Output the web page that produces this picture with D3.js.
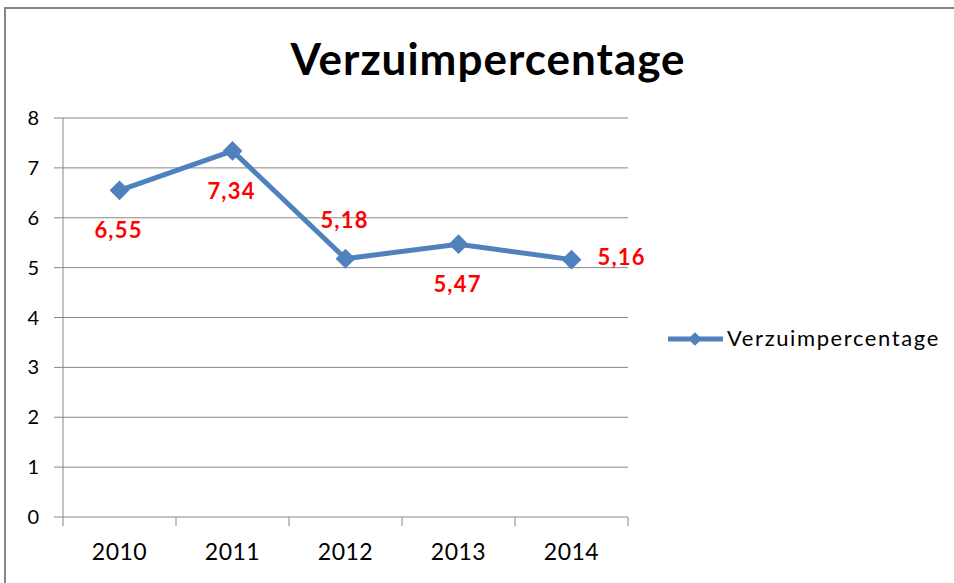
<!DOCTYPE html>
<html>
<head>
<meta charset="utf-8">
<script src="https://cdn.jsdelivr.net/npm/d3@7"></script>
<style>
  body { margin: 0; background: #fff; }
  text { font-family: Lato, "Open Sans", sans-serif; }
</style>
</head>
<body>
<div id="chart"></div>
<script>
// data
const years = ["2010", "2011", "2012", "2013", "2014"];
const verzuim = [6.55, 7.34, 5.18, 5.47, 5.16];
const labelText = ["6,55", "7,34", "5,18", "5,47", "5,16"];
const labelPos = ["below", "below", "above", "below", "right"];
const yTicks = [0, 1, 2, 3, 4, 5, 6, 7, 8];

const W = 954, H = 583;
let margin = {top: 118, left: 63, right: 954 - 628, bottom: 583 - 517};

let svg = d3.select("#chart").append("svg")
  .attr("width", W)
  .attr("height", H);

// chart border (runs off the right and bottom edge)
svg.append("rect")
  .attr("x", 5).attr("y", 8)
  .attr("width", W + 10).attr("height", H + 10)
  .attr("fill", "#fff")
  .attr("stroke", "#868686")
  .attr("stroke-width", 2);

let x = d3.scaleBand().domain(years).range([margin.left, W - margin.right]);
let y = d3.scaleLinear().domain([0, 8]).range([H - margin.bottom, margin.top]);

// gridlines
svg.append("g").selectAll("line")
  .data(yTicks)
  .enter().append("line")
    .attr("x1", margin.left - 9).attr("x2", W - margin.right)
    .attr("y1", d => y(d)).attr("y2", d => y(d))
    .attr("stroke", "#878787").attr("stroke-width", 1);

// y axis line
svg.append("line")
  .attr("x1", margin.left).attr("x2", margin.left)
  .attr("y1", y(8)).attr("y2", y(0))
  .attr("stroke", "#878787");

// y tick labels
svg.append("g").selectAll("text")
  .data(yTicks)
  .enter().append("text")
    .attr("x", 39).attr("y", d => y(d) + 7)
    .attr("text-anchor", "end")
    .attr("font-size", 20)
    .attr("fill", "#000")
    .text(d => d);

// x tick marks
let bounds = years.map(d => x(d)).concat([x(years[years.length - 1]) + x.bandwidth()]);
svg.append("g").selectAll("line")
  .data(bounds)
  .enter().append("line")
    .attr("x1", d => d).attr("x2", d => d)
    .attr("y1", y(0)).attr("y2", y(0) + 9)
    .attr("stroke", "#878787");

// x labels
svg.append("g").selectAll("text")
  .data(years)
  .enter().append("text")
    .attr("x", d => x(d) + x.bandwidth() / 2)
    .attr("y", 560)
    .attr("text-anchor", "middle")
    .attr("font-size", 23)
    .attr("letter-spacing", 0.5)
    .text(d => d);

// title
svg.append("text")
  .attr("x", 488).attr("y", 75)
  .attr("text-anchor", "middle")
  .attr("font-size", 44)
  .attr("font-weight", "bold")
  .attr("letter-spacing", 1)
  .text("Verzuimpercentage");

// line
let cx = (d, i) => x(years[i]) + x.bandwidth() / 2;
let line = d3.line()
  .x((d, i) => cx(d, i))
  .y(d => y(d));

svg.append("path")
  .datum(verzuim)
  .attr("fill", "none")
  .attr("stroke", "#4F81BD")
  .attr("stroke-width", 5)
  .attr("stroke-linejoin", "round")
  .attr("d", line);

let diamond = d3.symbol().type(d3.symbolDiamond2).size(250);
svg.append("g").selectAll("path")
  .data(verzuim)
  .enter().append("path")
    .attr("d", diamond)
    .attr("transform", (d, i) => "translate(" + cx(d, i) + "," + y(d) + ")")
    .attr("fill", "#4F81BD");

// data labels
svg.append("g").selectAll("text")
  .data(verzuim)
  .enter().append("text")
    .attr("x", (d, i) => labelPos[i] == "right" ? cx(d, i) + 26 : cx(d, i) - 1)
    .attr("y", (d, i) => {
      if (labelPos[i] == "below") return y(d) + 48;
      if (labelPos[i] == "above") return y(d) - 31;
      return y(d) + 5;
    })
    .attr("text-anchor", (d, i) => labelPos[i] == "right" ? "start" : "middle")
    .attr("font-size", 22)
    .attr("font-weight", "bold")
    .attr("letter-spacing", 1.2)
    .attr("fill", "#FF0000")
    .text((d, i) => labelText[i]);

// legend
let lg = svg.append("g").attr("transform", "translate(668,339)");
lg.append("line")
  .attr("x1", 0).attr("x2", 55)
  .attr("stroke", "#4F81BD").attr("stroke-width", 5);
lg.append("path")
  .attr("d", d3.symbol().type(d3.symbolDiamond2).size(120))
  .attr("transform", "translate(27,0)")
  .attr("fill", "#4F81BD");
lg.append("text")
  .attr("x", 59).attr("y", 7)
  .attr("font-size", 22)
  .attr("letter-spacing", 1.6)
  .text("Verzuimpercentage");
</script>
</body>
</html>
